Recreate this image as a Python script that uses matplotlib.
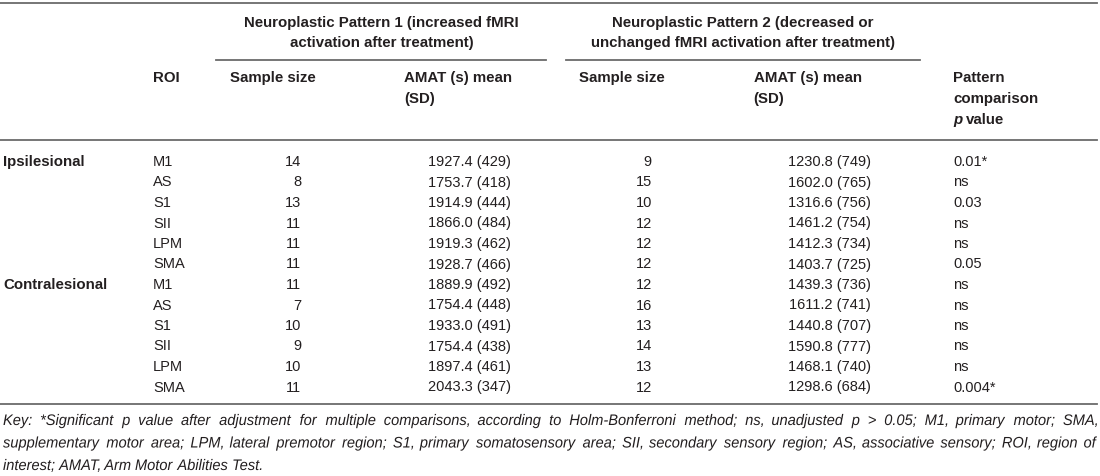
import matplotlib
matplotlib.use('Agg')
import matplotlib.pyplot as plt
from matplotlib.font_manager import FontProperties
from matplotlib.textpath import TextPath
from matplotlib.patches import PathPatch
from matplotlib.transforms import Affine2D

# 表格数据
sides = ['Ipsilesional', 'Contralesional']
rois = ['M1', 'AS', 'S1', 'SII', 'LPM', 'SMA']
n1 = [14, 8, 13, 11, 11, 11, 11, 7, 10, 9, 10, 11]
amat1 = ['1927.4 (429)', '1753.7 (418)', '1914.9 (444)', '1866.0 (484)', '1919.3 (462)', '1928.7 (466)',
         '1889.9 (492)', '1754.4 (448)', '1933.0 (491)', '1754.4 (438)', '1897.4 (461)', '2043.3 (347)']
n2 = [9, 15, 10, 12, 12, 12, 12, 16, 13, 14, 13, 12]
amat2 = ['1230.8 (749)', '1602.0 (765)', '1316.6 (756)', '1461.2 (754)', '1412.3 (734)', '1403.7 (725)',
         '1439.3 (736)', '1611.2 (741)', '1440.8 (707)', '1590.8 (777)', '1468.1 (740)', '1298.6 (684)']
pvals = ['0.01*', 'ns', '0.03', 'ns', 'ns', '0.05', 'ns', 'ns', 'ns', 'ns', 'ns', '0.004*']

group1 = ['Neuroplastic Pattern 1 (increased fMRI', 'activation after treatment)']
group2 = ['Neuroplastic Pattern 2 (decreased or', 'unchanged fMRI activation after treatment)']

key_lines = [
    'Key: *Significant p value after adjustment for multiple comparisons, according to Holm-Bonferroni method; ns, unadjusted p > 0.05; M1, primary motor; SMA,',
    'supplementary motor area; LPM, lateral premotor region; S1, primary somatosensory area; SII, secondary sensory region; AS, associative sensory; ROI, region of',
    'interest; AMAT, Arm Motor Abilities Test.',
]

font = 'Liberation Sans'
txt = '#231f20'
rule = '#6b6b6b'
fs = 10.5
fs_b = 10.8

fig = plt.figure(figsize=(11, 4.76), dpi=100)
ax = fig.add_axes([0, 0, 1, 1])
ax.set_xlim(0, 1100)
ax.set_ylim(476, 0)
ax.axis('off')

# 横线
ax.plot([0, 1097], [2.5, 2.5], color=rule, lw=1.3)
ax.plot([216, 546], [60, 60], color=rule, lw=1.3)
ax.plot([566, 920], [60, 60], color=rule, lw=1.3)
ax.plot([0, 1097], [140, 140], color=rule, lw=1.3)
ax.plot([0, 1097], [404, 404], color=rule, lw=1.3)

bold = dict(fontsize=fs_b, fontweight='bold', color=txt, family=font, va='center')
norm = dict(fontsize=fs, color=txt, family=font, va='center')

# 表头
for i, s in enumerate(group1):
    ax.text(381.5, 23 + 20.5 * i, s, ha='center', **bold)
for i, s in enumerate(group2):
    ax.text(743, 23 + 20.5 * i, s, ha='center', **bold)
ax.text(153, 78, 'ROI', ha='left', **bold)
ax.text(230, 78, 'Sample size', ha='left', **bold)
ax.text(404, 78, 'AMAT (s) mean', ha='left', **bold)
ax.text(404, 99, '(SD)', ha='left', **bold)
ax.text(579, 78, 'Sample size', ha='left', **bold)
ax.text(753.5, 78, 'AMAT (s) mean', ha='left', **bold)
ax.text(753.5, 99, '(SD)', ha='left', **bold)
ax.text(953, 78, 'Pattern', ha='left', **bold)
ax.text(953, 99, 'comparison', ha='left', **bold)
renderer = fig.canvas.get_renderer()
tp = ax.text(953, 120, 'p', ha='left', style='italic', **bold)
pw = tp.get_window_extent(renderer).width
ax.text(953 + pw + 3.5, 120, 'value', ha='left', **bold)

# 数据行
y0, dy = 162, 20.5
for i in range(len(n1)):
    y = y0 + dy * i
    if i % len(rois) == 0:
        ax.text(3.5, y, sides[i // len(rois)], ha='left', **bold)
    ax.text(153, y, rois[i % len(rois)], ha='left', **norm)
    ax.text(301, y, str(n1[i]), ha='right', **norm)
    ax.text(510.5, y, amat1[i], ha='right', **norm)
    ax.text(652, y, str(n2[i]), ha='right', **norm)
    ax.text(871, y, amat2[i], ha='right', **norm)
    ax.text(953, y, pvals[i], ha='left', **norm)

# 注释：窄斜体，两端对齐
fp = FontProperties(family=font, style='italic')
ksize = 15.3


def word_path(w):
    p = TextPath((0, 0), w, size=ksize, prop=fp)
    return p, p.get_extents().x1


last_w = word_path(key_lines[-1])[1]
sx = 257 / last_w
space_w = word_path('a a')[1] - 2 * word_path('a')[1]

key_base = [425, 447.5, 470]
for li, line in enumerate(key_lines):
    words = line.split(' ')
    paths = [word_path(w) for w in words]
    widths = [w * sx for _, w in paths]
    if li == len(key_lines) - 1:
        gap = space_w * sx
    else:
        gap = (1097 - 3 - sum(widths)) / (len(words) - 1)
    x = 3
    for (p, _), w in zip(paths, widths):
        tr = Affine2D().scale(sx, -1).translate(x, key_base[li]) + ax.transData
        ax.add_patch(PathPatch(p, transform=tr, facecolor=txt, edgecolor='none', lw=0))
        x += w + gap

fig.savefig('out.png', dpi=100)
